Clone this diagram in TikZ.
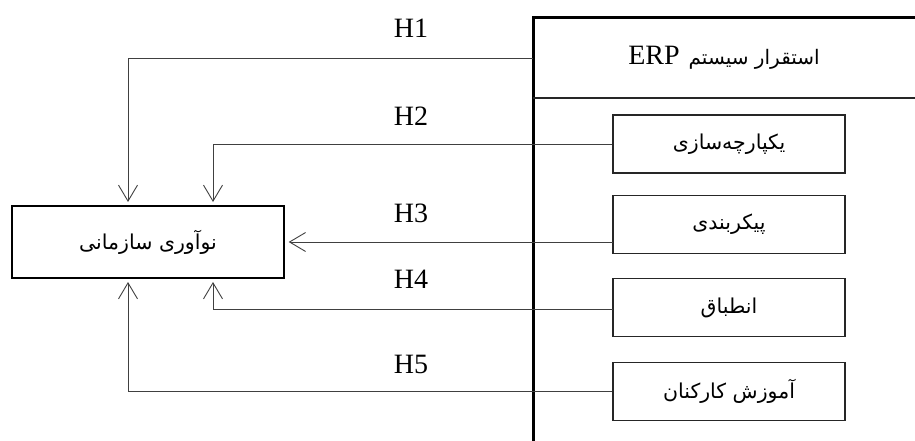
\documentclass[tikz,border=0pt]{standalone}
\usepackage{fontspec}
\setmainfont{Liberation Serif}
\newfontfamily\arabicfont[Script=Arabic]{DejaVu Sans}
\TeXXeTstate=1
\usetikzlibrary{arrows.meta}

\tikzset{
  frameline/.style={line width=3pt, black},
  sepline/.style={line width=1.8pt, black!85},
  itembox/.style={draw=black!85, line width=1.2pt, minimum width=232pt, minimum height=58pt,
                  inner sep=0pt, font=\arabicfont\fontsize{20.5}{24}\selectfont},
  mainbox/.style={draw=black, line width=1.4pt, minimum width=272pt, minimum height=72pt,
                  inner sep=0pt, font=\arabicfont\fontsize{20.5}{24}\selectfont},
  link/.style={draw=black!75, line width=0.9pt,
               -{Straight Barb[length=16pt, width=19pt, line width=0.9pt]}, shorten >=4pt},
  hlabel/.style={font=\fontsize{28}{32}\selectfont, inner sep=0pt},
}

\begin{document}
\begin{tikzpicture}[x=1pt, y=-1pt]
  \useasboundingbox (0,0) rectangle (915,441);

  % frame of the ERP block, open to the right and bottom
  \draw[frameline] (915,18) -- (533,18) -- (533,441);
  \draw[sepline] (533,98) -- (915,98);
  \node[minimum width=382pt, minimum height=80pt, inner sep=0pt] (erp) at (724,58)
    {\beginR{\arabicfont\fontsize{20}{24}\selectfont استقرار سیستم}\hspace{9pt}\beginL{\fontsize{28}{32}\selectfont ERP}\endL\endR};

  % ERP dimensions
  \node[itembox] (integ) at (729,144) {\beginR یکپارچه‌سازی\endR};
  \node[itembox] (config) at (729,224.5) {\beginR پیکربندی\endR};
  \node[itembox] (adapt) at (729,307.5) {\beginR انطباق\endR};
  \node[itembox] (train) at (729,391.5) {\beginR آموزش کارکنان\endR};

  % organisational innovation
  \node[mainbox] (innov) at (148,242) {\beginR نوآوری سازمانی\endR};

  % hypotheses
  \coordinate (a1) at (128,206);
  \coordinate (a2) at (213,206);
  \coordinate (a4) at (213,278);
  \coordinate (a5) at (128,278);
  \coordinate (s3) at (613,242);
  \coordinate (s4) at (613,309);
  \draw[link] (erp.west) -| (a1);
  \draw[link] (integ.west) -| (a2);
  \draw[link] (s3) -- (innov.east);
  \draw[link] (s4) -| (a4);
  \draw[link] (train.west) -| (a5);

  \node[hlabel] (h1) at (411,28) {H1};
  \node[hlabel] (h2) at (411,116) {H2};
  \node[hlabel] (h3) at (411,213) {H3};
  \node[hlabel] (h4) at (411,279) {H4};
  \node[hlabel] (h5) at (411,364) {H5};
\end{tikzpicture}
\end{document}
